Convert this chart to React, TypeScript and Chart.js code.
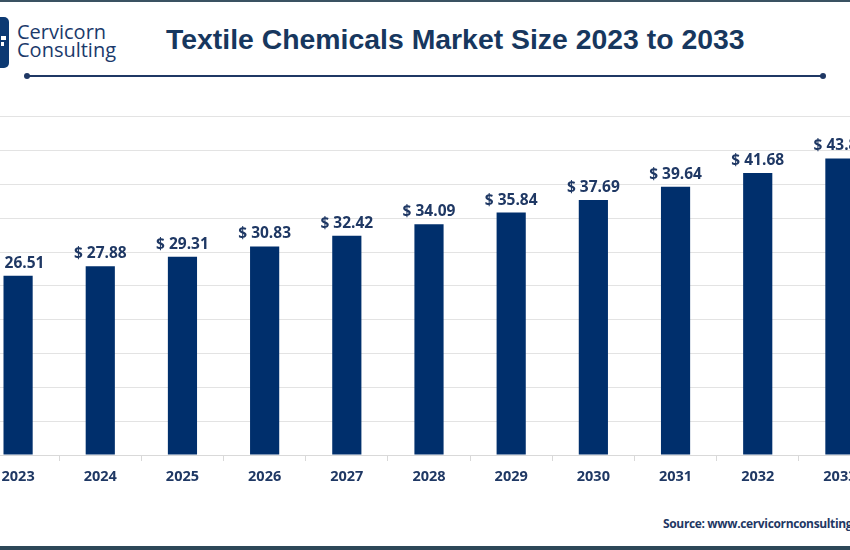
import React, { useEffect, useRef } from "react";
import { Chart, registerables } from "chart.js";

Chart.register(...registerables);

const years = ["2023", "2024", "2025", "2026", "2027", "2028", "2029", "2030", "2031", "2032", "2033"];
const marketSize = [26.51, 27.88, 29.31, 30.83, 32.42, 34.09, 35.84, 37.69, 39.64, 41.68, 43.83];
const yTicks = [0, 5, 10, 15, 20, 25, 30, 35, 40, 45, 50];

const NAVY_TEXT = "#1f3864";
const BAR = "#002f6c";
const GRID = "#e3e3e3";

const valueLabels = {
  id: "valueLabels",
  afterDatasetsDraw(chart: any) {
    const ctx = chart.ctx;
    const meta = chart.getDatasetMeta(0);
    ctx.save();
    ctx.font = "bold 15.5px 'Open Sans'";
    ctx.fillStyle = NAVY_TEXT;
    ctx.textAlign = "center";
    ctx.textBaseline = "alphabetic";
    meta.data.forEach((bar: any, i: number) => {
      ctx.fillText("$ " + marketSize[i].toFixed(2), bar.x, bar.y - 8);
    });
    ctx.restore();
  },
};

export default function App() {
  const ref = useRef<HTMLCanvasElement | null>(null);

  useEffect(() => {
    if (!ref.current) return;
    const chart = new Chart(ref.current, {
      type: "bar",
      data: {
        labels: years,
        datasets: [
          {
            data: marketSize,
            backgroundColor: BAR,
            categoryPercentage: 1,
            barPercentage: 0.355,
          },
        ],
      },
      options: {
        animation: false,
        responsive: false,
        maintainAspectRatio: false,
        devicePixelRatio: 1,
        layout: { padding: { top: 16.7, left: 0, right: 0, bottom: 0 } },
        plugins: {
          legend: { display: false },
          title: { display: false },
          tooltip: { enabled: false },
        },
        scales: {
          x: {
            offset: true,
            grid: {
              display: true,
              offset: true,
              drawOnChartArea: false,
              drawTicks: true,
              tickLength: 6,
              color: "#d9d9d9",
            },
            border: { display: true, color: "#d9d9d9" },
            ticks: {
              color: NAVY_TEXT,
              font: { family: "'Open Sans'", size: 14.5, weight: "bold" },
              padding: 7,
              maxRotation: 0,
              autoSkip: false,
            },
            afterFit: (s: any) => {
              s.height = 45;
            },
          },
          y: {
            min: 0,
            max: 50,
            afterBuildTicks: (s: any) => {
              s.ticks = yTicks.map((v) => ({ value: v }));
            },
            grid: { color: GRID, drawTicks: false },
            border: { display: false },
            ticks: { display: false },
            afterFit: (s: any) => {
              s.width = 0;
            },
          },
        },
      },
      plugins: [valueLabels],
    });
    return () => chart.destroy();
  }, []);

  return (
    <div
      style={{
        position: "fixed",
        left: 0,
        top: 0,
        width: 850,
        height: 550,
        overflow: "hidden",
        background: "#ffffff",
      }}
    >
      {/* top frame line */}
      <div style={{ position: "absolute", left: 0, top: 0, width: 850, height: 2, background: "#3a5262" }} />
      {/* bottom frame line */}
      <div style={{ position: "absolute", left: 0, top: 546, width: 850, height: 4, background: "#2d4858" }} />

      {/* logo */}
      <div
        style={{
          position: "absolute",
          left: -10,
          top: 17,
          width: 19,
          height: 51,
          borderRadius: 5,
          background: "#0d3a73",
        }}
      >
        <div style={{ position: "absolute", left: 11, top: 19, width: 5, height: 4, background: "#ffffff" }} />
        <div style={{ position: "absolute", left: 11, top: 25, width: 3, height: 4, background: "#ffffff" }} />
      </div>
      <div
        style={{
          position: "absolute",
          left: 17,
          top: 23,
          fontFamily: "'Open Sans'",
          fontSize: 20,
          lineHeight: "18px",
          color: "#1b3a6b",
        }}
      >
        <div>Cervicorn</div>
        <div>Consulting</div>
      </div>

      {/* title */}
      <div
        style={{
          position: "absolute",
          left: 166,
          top: 23,
          fontFamily: "'Liberation Sans', Arial, sans-serif",
          fontWeight: "bold",
          fontSize: 28.4,
          lineHeight: "32px",
          color: "#17375e",
          whiteSpace: "nowrap",
        }}
      >
        Textile Chemicals Market Size 2023 to 2033
      </div>

      {/* separator line with dots */}
      <div style={{ position: "absolute", left: 27, top: 75, width: 796, height: 2, background: "#1f3864" }} />
      <div style={{ position: "absolute", left: 24, top: 73, width: 6, height: 6, borderRadius: 3, background: "#1f3864" }} />
      <div style={{ position: "absolute", left: 820, top: 73, width: 6, height: 6, borderRadius: 3, background: "#1f3864" }} />

      {/* chart */}
      <canvas
        ref={ref}
        width={904}
        height={400}
        style={{ position: "absolute", left: -23, top: 100, width: 904, height: 400 }}
      />

      {/* source */}
      <div
        style={{
          position: "absolute",
          left: 663,
          top: 515,
          fontFamily: "'Open Sans'",
          fontWeight: "bold",
          fontSize: 12,
          letterSpacing: "-0.35px",
          color: "#1f3864",
          whiteSpace: "nowrap",
        }}
      >
        Source: www.cervicornconsulting.com
      </div>
    </div>
  );
}
